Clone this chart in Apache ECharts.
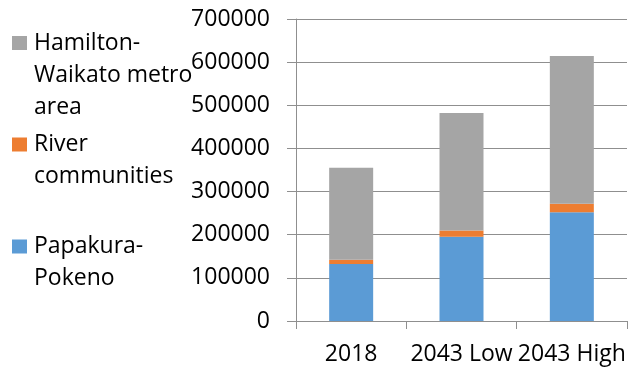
<!DOCTYPE html>
<html>
<head>
<meta charset="utf-8">
<script src="https://cdn.jsdelivr.net/npm/echarts@6/dist/echarts.min.js"></script>
<style>html,body{margin:0;padding:0;background:#fff;}#c{width:638px;height:370px;}</style>
</head>
<body>
<div id="c"></div>
<script>
var categories = ['2018', '2043 Low', '2043 High'];
var papakuraPokeno = [132000, 195000, 252000];
var riverCommunities = [10000, 15000, 20000];
var hamiltonWaikato = [213000, 272000, 342000];
var yTicks = [0, 100000, 200000, 300000, 400000, 500000, 600000, 700000];

var FONT = 'Open Sans';
var FS = 23;
var chart = echarts.init(document.getElementById('c'));
function legendFor(name, label, top) {
  return {
    data: [name], left: 12, top: top, orient: 'vertical',
    itemWidth: 15, itemHeight: 14, itemGap: 0, padding: 0,
    icon: 'rect', selectedMode: false,
    formatter: function () { return label; },
    textStyle: { fontFamily: FONT, fontSize: FS, color: '#000', lineHeight: 32, padding: [0, 0, 0, 2] }
  };
}
chart.setOption({
  animation: false,
  textStyle: { fontFamily: FONT },
  legend: [
    legendFor('Hamilton-Waikato metro area', '\n\nHamilton-\nWaikato metro\narea', 43 - 16 - 64),
    legendFor('River communities', '\nRiver\ncommunities', 144.5 - 16 - 32),
    legendFor('Papakura-Pokeno', '\nPapakura-\nPokeno', 246.5 - 16 - 32)
  ],
  grid: { left: 296, right: 11, top: 19, bottom: 49, containLabel: false },
  xAxis: {
    type: 'category', data: categories,
    axisLine: { lineStyle: { color: '#8f8f8f', width: 1 } },
    axisTick: { show: true, length: 8, alignWithLabel: false, lineStyle: { color: '#8f8f8f' } },
    axisLabel: { fontFamily: FONT, fontSize: FS, color: '#000', margin: 22, interval: 0, hideOverlap: false }
  },
  yAxis: {
    type: 'value', min: 0, max: 700000, interval: 100000,
    axisLine: { show: true, lineStyle: { color: '#8f8f8f', width: 1 } },
    axisTick: { show: true, length: 9, lineStyle: { color: '#8f8f8f' } },
    splitLine: { show: true, lineStyle: { color: '#8f8f8f', width: 1 } },
    axisLabel: {
      fontFamily: FONT, fontSize: FS, color: '#000', margin: 26,
      formatter: function (v) { return yTicks.indexOf(v) >= 0 ? String(v) : ''; }
    }
  },
  series: [
    { name: 'Papakura-Pokeno', type: 'bar', stack: 't', data: papakuraPokeno, barWidth: 44, itemStyle: { color: '#5B9BD5' } },
    { name: 'River communities', type: 'bar', stack: 't', data: riverCommunities, barWidth: 44, itemStyle: { color: '#ED7D31' } },
    { name: 'Hamilton-Waikato metro area', type: 'bar', stack: 't', data: hamiltonWaikato, barWidth: 44, itemStyle: { color: '#A5A5A5' } }
  ]
});
</script>
</body>
</html>
